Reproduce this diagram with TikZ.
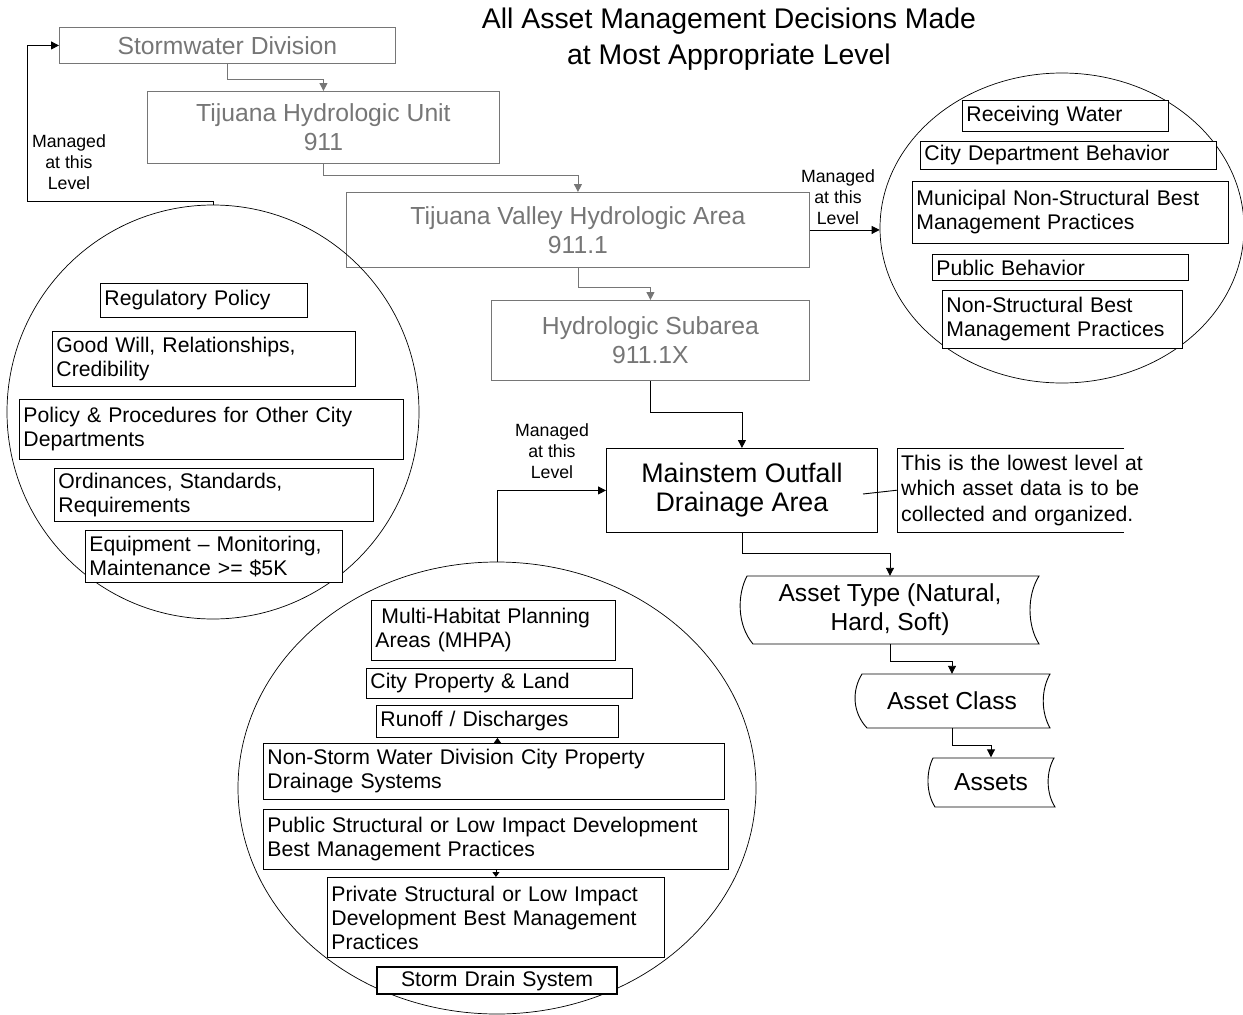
\documentclass[tikz,border=0pt]{standalone}
\usepackage{fontspec}
\setmainfont{Liberation Sans}
\usetikzlibrary{arrows.meta,shapes.geometric}
\definecolor{lvlgray}{RGB}{118,118,118}
\tikzset{
  lvlbox/.style={draw=lvlgray, text=lvlgray, line width=0.9pt, align=center, anchor=north west, inner sep=0pt, font=\fontsize{24.7}{29}\selectfont},
  itembox/.style={draw, fill=white, line width=0.9pt, align=left, anchor=north west, inner xsep=4pt, inner ysep=0pt, font=\fontsize{21.2}{24}\selectfont},
  lvlcirc/.style={draw, ellipse, line width=0.7pt, inner sep=0pt},
  mgdlabel/.style={align=center, font=\fontsize{17.7}{21}\selectfont},
  flow/.style={line width=0.9pt, -{Triangle[length=8pt,width=8pt]}},
  smallflow/.style={line width=0.9pt, -{Triangle[length=5pt,width=7pt]}},
  grayflow/.style={flow, draw=lvlgray},
  stored/.style={align=center, inner sep=0pt, font=\fontsize{24.6}{29}\selectfont},
}
\begin{document}
\begin{tikzpicture}[x=1pt,y=-1pt]
  \useasboundingbox (0,0) rectangle (1243,1015);
  % title
  \node[align=center, font=\fontsize{28.4}{36}\selectfont] (title) at (729,39) {All Asset Management Decisions Made\\at Most Appropriate Level};
  % hydrologic levels
  \node[lvlbox, minimum width=336pt, minimum height=36pt] (sw) at (59,27) {Stormwater Division};
  \node[lvlbox, minimum width=352pt, minimum height=72pt] (unit) at (147,91) {Tijuana Hydrologic Unit\\911};
  \node[lvlbox, minimum width=463pt, minimum height=75pt] (valley) at (346,192) {Tijuana Valley Hydrologic Area\\911.1};
  \node[lvlbox, minimum width=318pt, minimum height=80pt] (subarea) at (491,300) {Hydrologic Subarea\\911.1X};
  \node[draw, line width=0.9pt, align=center, anchor=north west, inner sep=0pt, minimum width=271pt, minimum height=84pt, font=\fontsize{26.8}{29}\selectfont] (mainstem) at (606,448) {Mainstem Outfall\\Drainage Area};
  \draw[grayflow] (sw.south) -- ++(0,16) -| (unit.north);
  \draw[grayflow] (unit.south) -- ++(0,12) -| (valley.north);
  \draw[grayflow] (valley.south) -- ++(0,20) -| (subarea.north);
  \draw[flow] (subarea.south) -- ++(0,32) -| (mainstem.north);
  % note
  \node[anchor=north west, align=left, text width=270pt, inner xsep=4pt, inner ysep=0pt, minimum height=84pt, font=\fontsize{21.2}{25.5}\selectfont] (note) at (897,448) {This is the lowest level at\\which asset data is to be\\collected and organized.};
  \draw[line width=0.9pt] (note.north west) ++(227,0) -- (note.north west) -- (note.south west) -- ++(227,0);
  \coordinate (notept) at (863,494);
  \draw[line width=0.9pt] (notept) -- (note.west);
  % assets
  \node[stored, minimum width=300pt, minimum height=68pt] (atype) at (890,610) {Asset Type (Natural,\\Hard, Soft)};
  \node[stored, minimum width=195pt, minimum height=54pt] (acls) at (952,701) {Asset Class};
  \node[stored, minimum width=127pt, minimum height=49pt] (assets) at (991,782) {Assets};
  \draw[line width=0.9pt] (747,576) .. controls (737,595) and (737,625) .. (753,644) -- (1039,644) .. controls (1027,625) and (1027,595) .. (1039,576) -- cycle;
  \draw[line width=0.9pt] (862,674) .. controls (852,690) and (852,712) .. (867,728) -- (1050,728) .. controls (1041,712) and (1041,690) .. (1050,674) -- cycle;
  \draw[line width=0.9pt] (933,758) .. controls (926,772) and (926,793) .. (935,807) -- (1055,807) .. controls (1046,793) and (1046,772) .. (1054,758) -- cycle;
  \draw[flow] (mainstem.south) -- ++(0,21) -| (atype.north);
  \draw[flow] (atype.south) -- ++(0,17) -| (acls.north);
  \draw[flow] (acls.south) -- ++(0,17) -| (assets.north);
  % left circle
  \node[lvlcirc, minimum width=412pt, minimum height=414pt] (lcirc) at (213,412) {};
  \node[itembox, text width=199pt, minimum height=34pt] (regpol) at (100,283) {Regulatory Policy};
  \node[itembox, text width=295pt, minimum height=55pt] (goodwill) at (52,331) {Good Will, Relationships,\\Credibility};
  \node[itembox, text width=376pt, minimum height=60pt] (policy) at (19,399) {Policy \& Procedures for Other City\\Departments};
  \node[itembox, text width=311pt, minimum height=53pt] (ordin) at (54,468) {Ordinances, Standards,\\Requirements};
  \node[itembox, text width=249pt, minimum height=52pt] (equip) at (85,530) {Equipment -- Monitoring,\\Maintenance >= \$5K};
  \node[mgdlabel] (mgdleft) at (69,162) {Managed\\at this\\Level};
  \coordinate (lbend) at (27,201);
  \draw[flow] (lcirc.north) |- (lbend) |- (sw.west);
  % right circle
  \node[lvlcirc, minimum width=364pt, minimum height=310pt] (rcirc) at (1062,228) {};
  \node[itembox, text width=198pt, minimum height=31pt] (recv) at (962,100) {Receiving Water};
  \node[itembox, text width=288pt, minimum height=28pt] (citydep) at (920,141) {City Department Behavior};
  \node[itembox, text width=308pt, minimum height=62pt] (muni) at (912,181) {Municipal Non-Structural Best\\Management Practices};
  \node[itembox, text width=248pt, minimum height=26pt] (pubbeh) at (932,254) {Public Behavior};
  \node[itembox, text width=232pt, minimum height=58pt] (nsbmp) at (942,290) {Non-Structural Best\\Management Practices};
  \node[mgdlabel] (mgdright) at (838,197) {Managed\\at this\\Level};
  \draw[flow] (valley.east) -- (valley.east -| rcirc.west);
  % bottom circle
  \node[lvlcirc, minimum width=518pt, minimum height=452pt] (bcirc) at (497,788) {};
  \node[itembox, text width=236pt, minimum height=60pt] (mhpa) at (371,600) {\hspace*{0.28em}Multi-Habitat Planning\\Areas (MHPA)};
  \node[itembox, text width=258pt, minimum height=30pt] (cityprop) at (366,668) {City Property \& Land};
  \node[itembox, text width=234pt, minimum height=32pt] (runoff) at (376,705) {Runoff / Discharges};
  \node[itembox, text width=453pt, minimum height=56pt] (nonstorm) at (263,743) {Non-Storm Water Division City Property\\Drainage Systems};
  \node[itembox, text width=457pt, minimum height=60pt] (pubstruct) at (263,809) {Public Structural or Low Impact Development\\Best Management Practices};
  \node[itembox, text width=329pt, minimum height=80pt] (privstruct) at (327,877) {Private Structural or Low Impact\\Development Best Management\\Practices};
  \node[itembox, line width=2.2pt, align=center, text width=232pt, minimum height=27pt] (stormdrain) at (376,966) {Storm Drain System};
  \draw[smallflow] (runoff.south |- nonstorm.north) -- (runoff.south);
  \draw[smallflow] (pubstruct.south) -- (privstruct.north);
  \node[mgdlabel] (mgdmid) at (552,451) {Managed\\at this\\Level};
  \draw[flow] (bcirc.north) |- (mainstem.west);
\end{tikzpicture}
\end{document}
